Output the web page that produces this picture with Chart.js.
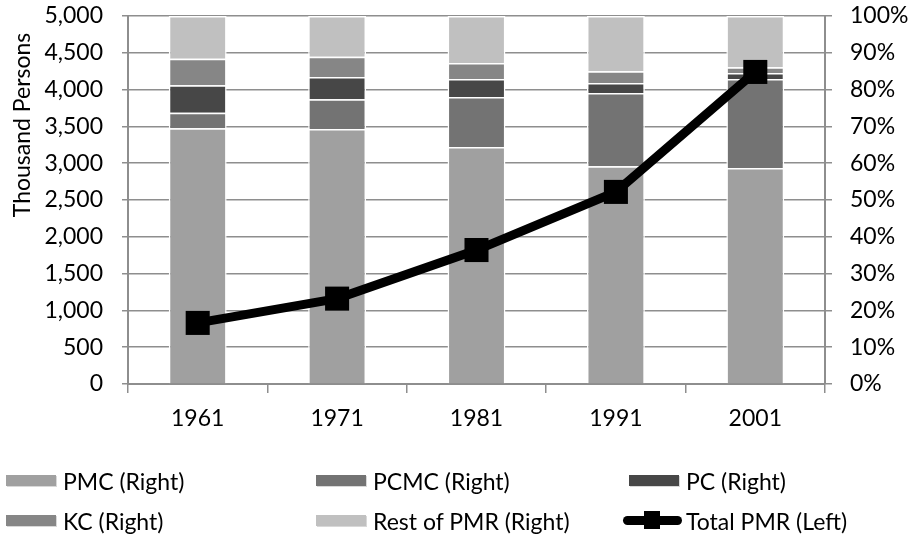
<!DOCTYPE html>
<html>
<head>
<meta charset="utf-8">
<script src="https://cdn.jsdelivr.net/npm/chart.js@4"></script>
<style>
  body { margin: 0; background: #fff; }
  #wrap { position: relative; width: 914px; height: 540px; }
  #legend { position: absolute; left: 0; top: 0; width: 914px; height: 540px; pointer-events: none;
            font-family: Lato, "Open Sans", sans-serif; font-size: 23px; color: #000; }
  .item { position: absolute; height: 30px; line-height: 30px; white-space: nowrap; }
  .box { position: absolute; top: 9px; width: 50px; height: 11px; box-shadow: 1px 1px 0 #d8d8d8; }
  .txt { position: absolute; top: 0; }
</style>
</head>
<body>
<div id="wrap">
  <canvas id="grafica" width="914" height="540"></canvas>
  <div id="legend"></div>
</div>
<script>
// Datos
var years = ['1961', '1971', '1981', '1991', '2001'];
var pmc  = [69.5, 69.3, 64.4, 59.2, 58.7];
var pcmc = [4.2, 8.1, 13.6, 19.9, 24.2];
var pc   = [7.5, 6.0, 4.9, 2.7, 1.6];
var kc   = [7.2, 5.5, 4.3, 3.2, 1.6];
var rest = [11.6, 11.1, 12.8, 15.0, 13.9];
var totalPMR = [830, 1160, 1820, 2610, 4240];

var FONT = 'Lato, "Open Sans", sans-serif';
var gridColor = '#8e8e8e';

function barSet(label, values, color) {
  return {
    type: 'bar',
    label: label,
    data: values,
    backgroundColor: color,
    borderColor: '#ffffff',
    borderWidth: 1.5,
    yAxisID: 'yR',
    order: 1,
    barPercentage: 0.415,
    categoryPercentage: 1
  };
}

// Título del eje izquierdo
var axisTitle = {
  id: 'axisTitle',
  afterDraw: function (chart) {
    var c = chart.ctx;
    c.save();
    c.translate(23, 125);
    c.rotate(-Math.PI / 2);
    c.font = '23px ' + FONT;
    c.fillStyle = '#000';
    c.textAlign = 'center';
    c.textBaseline = 'middle';
    c.fillText('Thousand Persons', 0, 0);
    c.restore();
  }
};

var ctx = document.getElementById('grafica').getContext('2d');
var myChart = new Chart(ctx, {
  data: {
    labels: years,
    datasets: [
      barSet('PMC (Right)', pmc, '#a0a0a0'),
      barSet('PCMC (Right)', pcmc, '#737373'),
      barSet('PC (Right)', pc, '#474747'),
      barSet('KC (Right)', kc, '#868686'),
      barSet('Rest of PMR (Right)', rest, '#c0c0c0'),
      {
        type: 'line',
        label: 'Total PMR (Left)',
        data: totalPMR,
        borderColor: '#000',
        backgroundColor: '#000',
        borderWidth: 9,
        pointStyle: 'rect',
        pointRadius: 17,
        pointBorderWidth: 0,
        yAxisID: 'y',
        order: 0
      }
    ]
  },
  options: {
    responsive: false,
    animation: false,
    layout: { autoPadding: false, padding: { top: 16, left: 0, right: 0, bottom: 0 } },
    plugins: { legend: { display: false }, tooltip: { enabled: false } },
    scales: {
      x: {
        stacked: true,
        offset: true,
        grid: { offset: true, drawOnChartArea: false, color: gridColor, lineWidth: 1.5, tickLength: 9 },
        border: { color: gridColor, width: 2 },
        ticks: { color: '#000', font: { family: FONT, size: 23 }, padding: 12, maxRotation: 0 },
        afterFit: function (s) { s.height = 156; }
      },
      y: {
        position: 'left',
        min: 0, max: 5000,
        grid: { color: gridColor, lineWidth: 1.5, tickLength: 6 },
        border: { color: gridColor, width: 2 },
        ticks: {
          stepSize: 500, color: '#000', font: { family: FONT, size: 23 }, padding: 19,
          callback: function (v) { return v.toLocaleString('en-US'); }
        },
        afterFit: function (s) { s.width = 128; s.paddingTop = 0; s.paddingBottom = 0; }
      },
      yR: {
        position: 'right',
        stacked: true,
        min: 0, max: 100,
        grid: { drawOnChartArea: false, color: gridColor, lineWidth: 1.5, tickLength: 7 },
        border: { color: gridColor, width: 2 },
        ticks: {
          stepSize: 10, color: '#000', font: { family: FONT, size: 23 }, padding: 18,
          callback: function (v) { return v + '%'; }
        },
        afterFit: function (s) { s.width = 89; s.paddingTop = 0; s.paddingBottom = 0; }
      }
    }
  },
  plugins: [axisTitle]
});

// Leyenda en HTML, construida desde los datasets
var colX = [6, 316, 629];
var rowY = [466, 506];
var legend = document.getElementById('legend');
myChart.data.datasets.forEach(function (ds, i) {
  var item = document.createElement('div');
  item.className = 'item';
  item.style.left = colX[i % 3] + 'px';
  item.style.top = rowY[Math.floor(i / 3)] + 'px';
  var txt = document.createElement('span');
  txt.className = 'txt';
  txt.textContent = ds.label;
  if (ds.type === 'bar') {
    var box = document.createElement('div');
    box.className = 'box';
    box.style.left = '0px';
    box.style.background = ds.backgroundColor;
    item.appendChild(box);
  } else {
    var line = document.createElement('div');
    line.style.cssText = 'position:absolute;left:-6px;top:10px;width:59px;height:9px;border-radius:5px;background:#000;';
    var sq = document.createElement('div');
    sq.style.cssText = 'position:absolute;left:15px;top:5px;width:16px;height:18px;background:#000;';
    item.appendChild(line);
    item.appendChild(sq);
  }
  txt.style.left = '57px';
  item.appendChild(txt);
  legend.appendChild(item);
});
</script>
</body>
</html>
